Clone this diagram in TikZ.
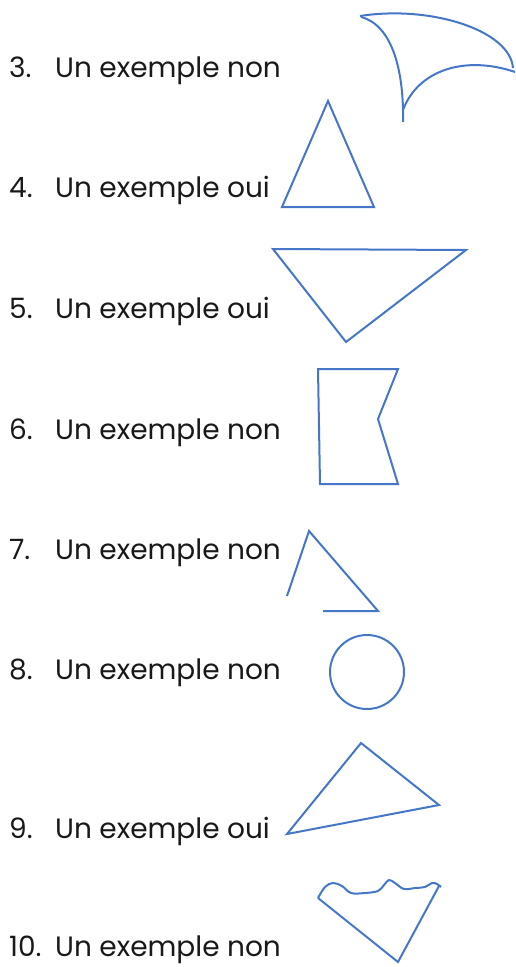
\documentclass[tikz,border=0pt]{standalone}
\usepackage{fontspec}
\setmainfont{Poppins}
\definecolor{shapeblue}{RGB}{70,118,200}
\tikzset{
  lbl/.style={anchor=base west, inner sep=0pt, font=\fontsize{28}{33}\selectfont, text=black!90},
  shp/.style={draw=shapeblue, line width=2pt, line join=miter}
}
\begin{document}
\begin{tikzpicture}[x=1pt,y=-1pt]
\useasboundingbox (0,0) rectangle (515,967);
% labels
\node[lbl] (n3) at (9,77) {3.};
\node[lbl] (t3) at (55,77) {Un exemple non};
\node[lbl] (n4) at (9,197) {4.};
\node[lbl] (t4) at (55,197) {Un exemple oui};
\node[lbl] (n5) at (9,318) {5.};
\node[lbl] (t5) at (55,318) {Un exemple oui};
\node[lbl] (n6) at (9,439) {6.};
\node[lbl] (t6) at (55,439) {Un exemple non};
\node[lbl] (n7) at (9,559) {7.};
\node[lbl] (t7) at (55,559) {Un exemple non};
\node[lbl] (n8) at (9,679) {8.};
\node[lbl] (t8) at (55,679) {Un exemple non};
\node[lbl] (n9) at (9,838) {9.};
\node[lbl] (t9) at (55,838) {Un exemple oui};
\node[lbl] (n10) at (9,956) {10.};
\node[lbl] (t10) at (55,956) {Un exemple non};
% shape 3
\draw[shp] (360,16) .. controls (430,5) and (510,30) .. (513,68);
\draw[shp] (361,17) .. controls (392,25) and (404,70) .. (403,122);
\draw[shp] (403,110) .. controls (418,70) and (465,55) .. (515,72);
% shape 4
\draw[shp] (328,101) -- (374,207) -- (282,207) -- cycle;
% shape 5
\draw[shp] (273,249) -- (466,250) -- (346,342) -- cycle;
% shape 6
\draw[shp] (318,369) -- (398,369) -- (378,419) -- (398,484) -- (320,484) -- cycle;
% shape 7
\draw[shp] (287,596) -- (309,531) -- (378,611) -- (323,611);
% shape 8
\draw[shp] (367,672) circle (37);
% shape 9
\draw[shp] (361,743) -- (439,805) -- (287,834) -- cycle;
% shape 10
\draw[shp] plot[smooth, tension=0.6] coordinates {(318,898) (325,887) (333,883) (342,886) (351,893) (365,893) (378,891) (384,885) (389,880) (395,883) (404,889) (415,888) (425,887) (432,883) (437,884) (441,887)};
\draw[shp] (439,886) -- (398,962) -- (318,898);
\end{tikzpicture}
\end{document}
